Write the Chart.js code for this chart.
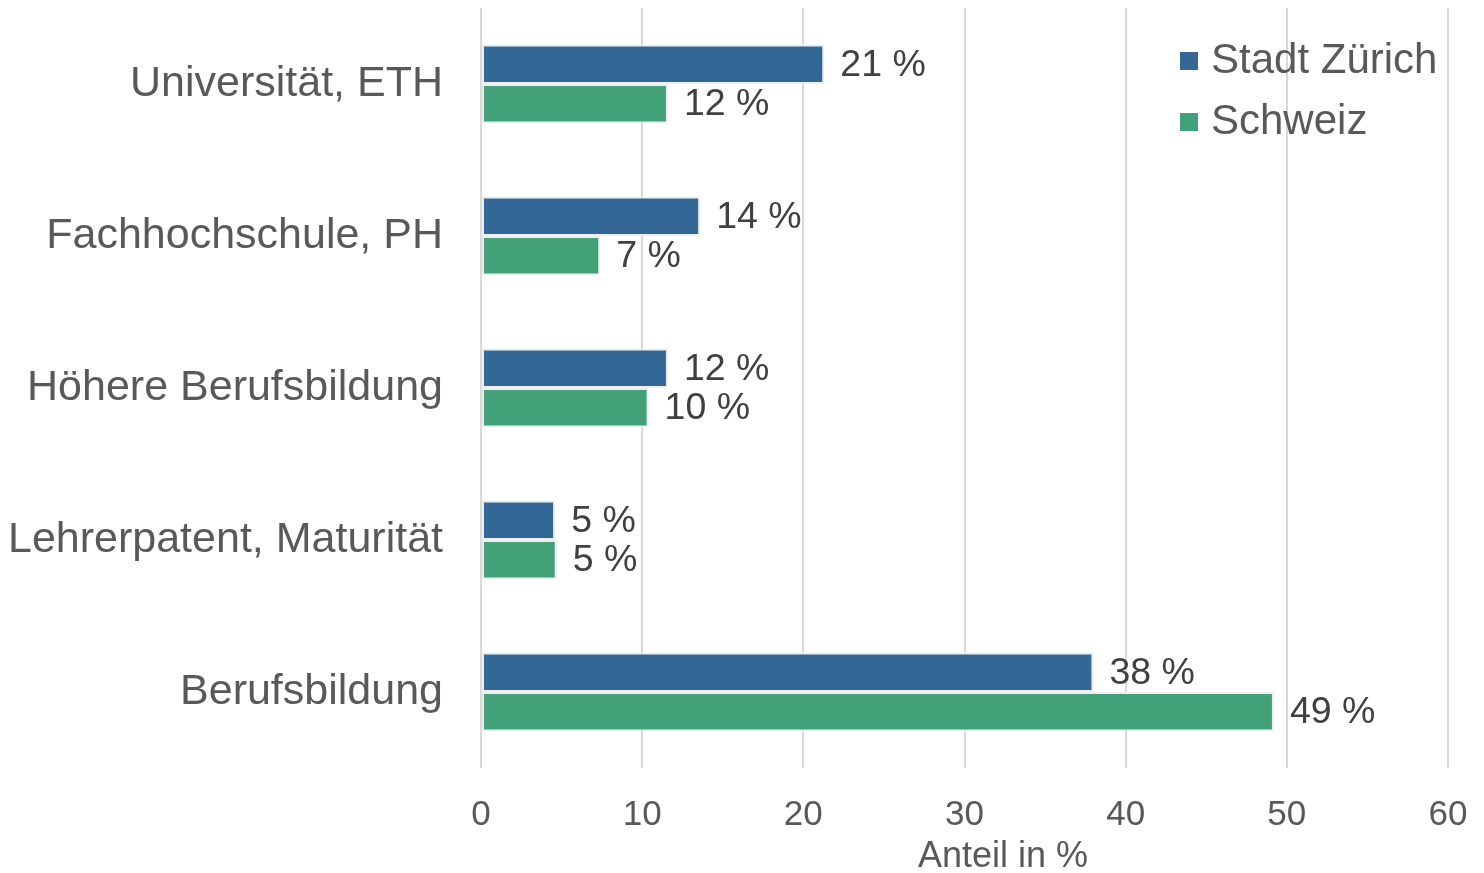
<!DOCTYPE html>
<html lang="de">
<head>
    <meta charset="UTF-8">
    <title>Bildungsabschluss - Stadt Zürich und Schweiz</title>
    <script src="https://cdn.jsdelivr.net/npm/chart.js"></script>
    <style>
        html, body { margin: 0; padding: 0; background: #ffffff; }
        #wrap { width: 1484px; height: 873px; }
    </style>
</head>
<body>
    <div id="wrap"><canvas id="bildung-chart"></canvas></div>

    <script>
        // Daten
        const categories = ['Universität, ETH', 'Fachhochschule, PH', 'Höhere Berufsbildung', 'Lehrerpatent, Maturität', 'Berufsbildung'];
        const seriesNames = ['Stadt Zürich', 'Schweiz'];
        const stadtZuerich = [21.3, 13.6, 11.6, 4.6, 38.0];
        const schweiz = [11.6, 7.4, 10.4, 4.7, 49.2];
        // Beschriftungen wie in der Vorlage (gerundet)
        const stadtZuerichLabels = ['21 %', '14 %', '12 %', '5 %', '38 %'];
        const schweizLabels = ['12 %', '7 %', '10 %', '5 %', '49 %'];
        const xTicks = [0, 10, 20, 30, 40, 50, 60];
        const axisTitle = 'Anteil in %';

        const colors = ['#336795', '#42a179'];
        const font = 'Liberation Sans, Arial, sans-serif';
        const valueTexts = [stadtZuerichLabels, schweizLabels];

        // Werte rechts neben den Balken
        const valueLabels = {
            id: 'valueLabels',
            afterDatasetsDraw(chart) {
                const ctx = chart.ctx;
                ctx.save();
                ctx.font = '37.5px ' + font;
                ctx.fillStyle = '#404040';
                ctx.textAlign = 'left';
                ctx.textBaseline = 'middle';
                chart.data.datasets.forEach((ds, i) => {
                    chart.getDatasetMeta(i).data.forEach((bar, j) => {
                        ctx.fillText(valueTexts[i][j], bar.x + 16, bar.y + 1);
                    });
                });
                ctx.restore();
            }
        };

        // Legende oben rechts und Achsentitel
        const extras = {
            id: 'extras',
            afterDraw(chart) {
                const ctx = chart.ctx;
                ctx.save();
                ctx.font = '42px ' + font;
                ctx.textBaseline = 'middle';
                seriesNames.forEach((name, i) => {
                    const y = 61 + i * 61;
                    ctx.fillStyle = colors[i];
                    ctx.fillRect(1180, y - 9, 18, 18);
                    ctx.fillStyle = '#595959';
                    ctx.fillText(name, 1211, y);
                });
                ctx.font = '36px ' + font;
                ctx.textAlign = 'center';
                ctx.fillText(axisTitle, 1003, 857);
                ctx.restore();
            }
        };

        new Chart(document.getElementById('bildung-chart'), {
            type: 'bar',
            data: {
                labels: categories,
                datasets: [
                    { label: seriesNames[0], data: stadtZuerich, backgroundColor: colors[0] },
                    { label: seriesNames[1], data: schweiz, backgroundColor: colors[1] }
                ]
            },
            options: {
                indexAxis: 'y',
                responsive: true,
                maintainAspectRatio: false,
                animation: false,
                datasets: {
                    bar: {
                        categoryPercentage: 0.52,
                        barPercentage: 1,
                        borderColor: '#eeeeee',
                        borderWidth: 2,
                        borderSkipped: false
                    }
                },
                layout: { padding: { left: 0, right: 36, top: 8, bottom: 0 } },
                plugins: {
                    legend: { display: false },
                    tooltip: { enabled: false }
                },
                scales: {
                    x: {
                        min: 0,
                        max: 60,
                        afterBuildTicks(axis) { axis.ticks = xTicks.map(v => ({ value: v })); },
                        afterFit(axis) {
                            axis.height = 105;
                            axis.paddingLeft = 0;
                            axis.paddingRight = 0;
                        },
                        grid: { color: '#d9d9d9', lineWidth: 2, drawTicks: false },
                        border: { display: false },
                        ticks: { color: '#595959', font: { family: font, size: 35 }, padding: 26, maxRotation: 0 }
                    },
                    y: {
                        afterFit(axis) {
                            axis.width = 481;
                            axis.paddingTop = 0;
                            axis.paddingBottom = 0;
                        },
                        grid: { display: false },
                        border: { display: false },
                        ticks: { color: '#595959', font: { family: font, size: 43 }, padding: 30 }
                    }
                }
            },
            plugins: [valueLabels, extras]
        });
    </script>
</body>
</html>
